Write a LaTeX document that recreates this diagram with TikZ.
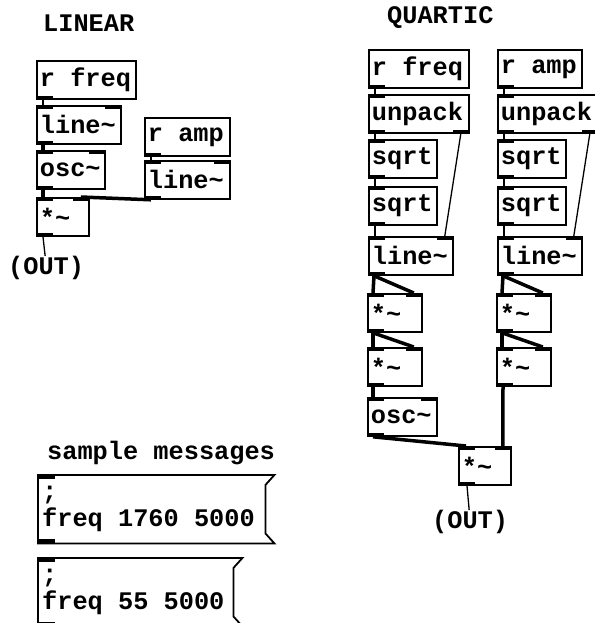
\documentclass[tikz,border=0pt]{standalone}
\usepackage{fontspec}
\setmonofont{Liberation Mono}
\newcommand\pdtilde{\textasciitilde}
\newcommand\pdfont{\ttfamily\bfseries\fontsize{25.3}{27}\selectfont}
\tikzset{
  obj/.style={draw, line width=1.8pt, anchor=north west, minimum height=38pt,
    text width=#1, inner xsep=3pt, inner ysep=0pt, align=left, font=\pdfont,
    execute at begin node={\spaceskip=15.2pt\relax}},
  msgbox/.style={anchor=north west, minimum height=68pt, text width=#1,
    inner xsep=4pt, inner ysep=0pt, align=left, font=\pdfont,
    execute at begin node={\spaceskip=15.2pt\relax}},
  heading/.style={anchor=west, inner sep=0pt, font=\pdfont},
  ctl/.style={line width=1.3pt},
  sig/.style={line width=3.5pt},
}
\begin{document}
\begin{tikzpicture}[x=1pt, y=-1pt]
    \useasboundingbox (0,0) rectangle (594,623);
    % linear patch
    \node[heading] (linear) at (43,23) {LINEAR};
    \node[obj=93pt] (rfA) at (36,60) {r freq};
    \node[obj=78pt] (lnA) at (36,105) {line\pdtilde};
    \node[obj=62pt] (oscA) at (36,150) {osc\pdtilde};
    \node[obj=46pt] (mulA) at (36,197) {*\pdtilde};
    \node[obj=79pt] (raA) at (144,117) {r amp};
    \node[obj=79pt] (lnB) at (144,160) {line\pdtilde};
    \node[heading] (outA) at (8,268) {(OUT)};
    % quartic patch
    \node[heading] (quartic) at (387,18) {QUARTIC};
    \node[obj=94pt] (rfQ) at (368,49) {r freq};
    \node[obj=94pt] (upQ) at (368,94) {unpack};
    \node[obj=62pt] (sqQa) at (368,139) {sqrt};
    \node[obj=62pt] (sqQb) at (368,186) {sqrt};
    \node[obj=78pt] (lnQ) at (368,236) {line\pdtilde};
    \node[obj=48pt] (mulQa) at (367,293) {*\pdtilde};
    \node[obj=48pt] (mulQb) at (367,347) {*\pdtilde};
    \node[obj=63pt] (oscQ) at (367,397) {osc\pdtilde};
    \node[obj=78pt] (raQ) at (497,49) {r amp};
    \node[obj=94pt] (upR) at (497,94) {unpack};
    \node[obj=62pt] (sqRa) at (497,139) {sqrt};
    \node[obj=62pt] (sqRb) at (497,186) {sqrt};
    \node[obj=78pt] (lnR) at (497,236) {line\pdtilde};
    \node[obj=48pt] (mulRa) at (496,293) {*\pdtilde};
    \node[obj=48pt] (mulRb) at (496,347) {*\pdtilde};
    \node[obj=46pt] (mulOut) at (458,446) {*\pdtilde};
    \node[heading] (outQ) at (432,522) {(OUT)};
    % sample messages
    \node[heading] (samples) at (47,453) {sample messages};
    \node[msgbox=228pt] (msgA) at (38,475) {;\\freq 1760 5000};
    \node[msgbox=196pt] (msgB) at (38,558) {;\\freq 55 5000};
    \foreach \m in {msgA,msgB} {
        \draw[line width=1.8pt] (\m.north west) -- (\m.north east)
            -- ([xshift=-9pt,yshift=-10pt]\m.north east)
            -- ([xshift=-9pt,yshift=10pt]\m.south east)
            -- (\m.south east) -- (\m.south west) -- cycle;
    }
    % inlets and outlets
    \foreach \b in {rfA,lnA,oscA,mulA,raA,lnB,rfQ,upQ,sqQa,sqQb,lnQ,mulQa,mulQb,oscQ,
                    raQ,upR,sqRa,sqRb,lnR,mulRa,mulRb,mulOut,msgA,msgB}
        \fill (\b.south west) rectangle ([xshift=17pt,yshift=4pt]\b.south west);
    \foreach \b in {lnA,oscA,mulA,lnB,lnQ,mulQa,mulQb,oscQ,lnR,mulRa,mulRb,mulOut,
                    upQ,sqQa,sqQb,upR,sqRa,sqRb,msgA,msgB}
        \fill (\b.north west) rectangle ([xshift=17pt,yshift=-4pt]\b.north west);
    \foreach \b in {lnA,oscA,mulA,lnB,lnQ,mulQa,mulQb,oscQ,lnR,mulRa,mulRb,mulOut}
        \fill (\b.north east) rectangle ([xshift=-17pt,yshift=-4pt]\b.north east);
    \foreach \b in {upQ,upR}
        \fill (\b.south east) rectangle ([xshift=-17pt,yshift=4pt]\b.south east);
    % linear connections
    \draw[ctl] ([xshift=7pt]rfA.south west) -- ([xshift=7pt]lnA.north west);
    \draw[sig] ([xshift=7pt]lnA.south west) -- ([xshift=7pt]oscA.north west);
    \draw[sig] ([xshift=7pt]oscA.south west) -- ([xshift=7pt]mulA.north west);
    \draw[ctl] ([xshift=7pt]raA.south west) -- ([xshift=7pt]lnB.north west);
    \draw[sig] ([xshift=7pt]lnB.south west) -- ([xshift=-9pt]mulA.north east);
    \draw[ctl] ([xshift=7pt]mulA.south west) -- ([xshift=-1pt]outA.north);
    % quartic connections
    \draw[ctl] ([xshift=7pt]rfQ.south west) -- ([xshift=7pt]upQ.north west);
    \draw[ctl] ([xshift=7pt]upQ.south west) -- ([xshift=7pt]sqQa.north west);
    \draw[ctl] ([xshift=7pt]sqQa.south west) -- ([xshift=7pt]sqQb.north west);
    \draw[ctl] ([xshift=7pt]sqQb.south west) -- ([xshift=7pt]lnQ.north west);
    \draw[ctl] ([xshift=-9pt]upQ.south east) -- ([xshift=-9pt]lnQ.north east);
    \draw[sig] ([xshift=6pt]lnQ.south west) -- ([xshift=6pt]mulQa.north west);
    \draw[sig] ([xshift=6pt]lnQ.south west) -- ([xshift=-9pt]mulQa.north east);
    \draw[sig] ([xshift=6pt]mulQa.south west) -- ([xshift=6pt]mulQb.north west);
    \draw[sig] ([xshift=6pt]mulQa.south west) -- ([xshift=-9pt]mulQb.north east);
    \draw[sig] ([xshift=6pt]mulQb.south west) -- ([xshift=6pt]oscQ.north west);
    \draw[sig] ([xshift=6pt]oscQ.south west) -- ([xshift=8pt]mulOut.north west);
    \draw[ctl] ([xshift=7pt]raQ.south west) -- ([xshift=7pt]upR.north west);
    \draw[ctl] ([xshift=7pt]upR.south west) -- ([xshift=7pt]sqRa.north west);
    \draw[ctl] ([xshift=7pt]sqRa.south west) -- ([xshift=7pt]sqRb.north west);
    \draw[ctl] ([xshift=7pt]sqRb.south west) -- ([xshift=7pt]lnR.north west);
    \draw[ctl] ([xshift=-9pt]upR.south east) -- ([xshift=-9pt]lnR.north east);
    \draw[sig] ([xshift=6pt]lnR.south west) -- ([xshift=6pt]mulRa.north west);
    \draw[sig] ([xshift=6pt]lnR.south west) -- ([xshift=-9pt]mulRa.north east);
    \draw[sig] ([xshift=6pt]mulRa.south west) -- ([xshift=6pt]mulRb.north west);
    \draw[sig] ([xshift=6pt]mulRa.south west) -- ([xshift=-9pt]mulRb.north east);
    \draw[sig] ([xshift=7pt]mulRb.south west) -- ([xshift=-9pt]mulOut.north east);
    \draw[ctl] ([xshift=9pt]mulOut.south west) -- ([xshift=-1pt]outQ.north);
\end{tikzpicture}
\end{document}
